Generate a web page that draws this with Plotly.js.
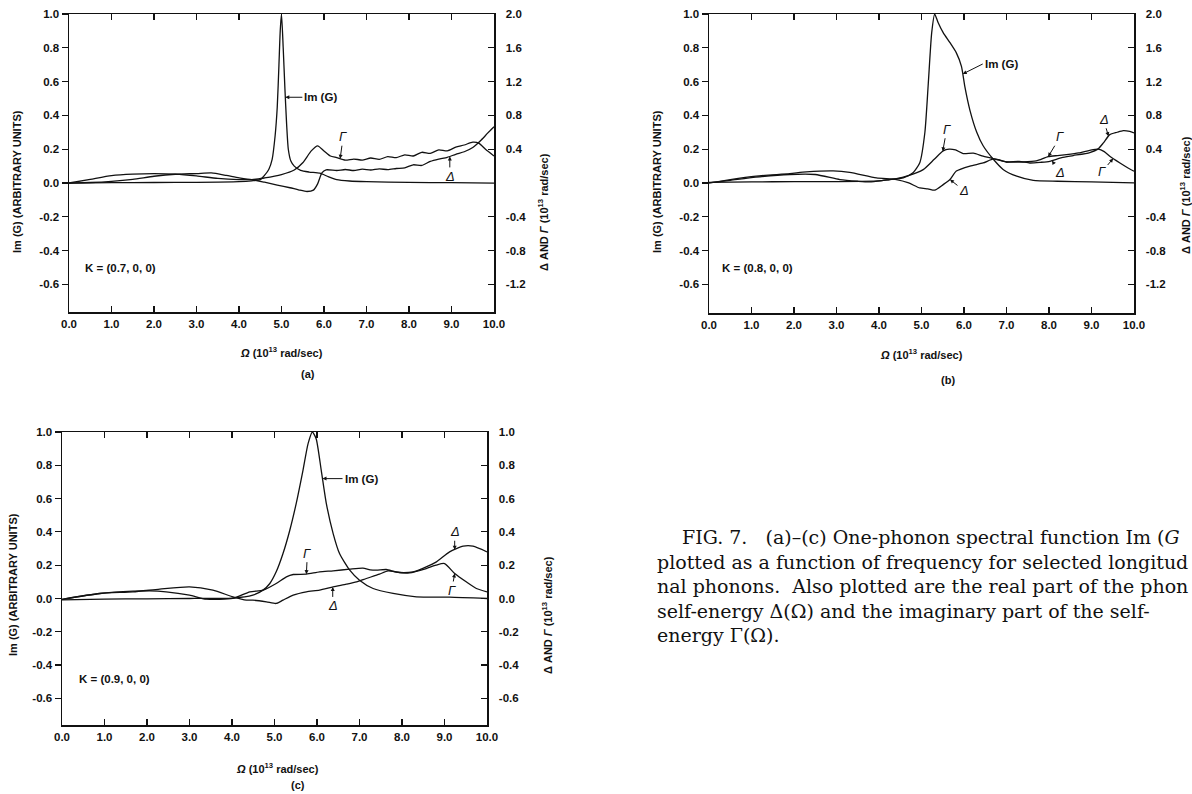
<!DOCTYPE html>
<html><head><meta charset="utf-8">
<script src="https://cdn.plot.ly/plotly-3.0.1.min.js"></script>
<style>html,body{margin:0;padding:0;background:#fff;overflow:hidden}#chart{width:1192px;height:794px}</style>
</head><body><div id="chart"></div>
<script>
// ---------------- DATA ----------------
const xTickVals = [0,1,2,3,4,5,6,7,8,9,10];
const xTickText = ["0.0","1.0","2.0","3.0","4.0","5.0","6.0","7.0","8.0","9.0","10.0"];
const leftTickVals = [-0.6,-0.4,-0.2,0,0.2,0.4,0.6,0.8,1.0];
const leftTickText = ["-0.6","-0.4","-0.2","0.0","0.2","0.4","0.6","0.8","1.0"];
const rightABTickVals = [-1.2,-0.8,-0.4,0.4,0.8,1.2,1.6,2.0];
const rightABTickText = ["-1.2","-0.8","-0.4","0.4","0.8","1.2","1.6","2.0"];
const rightCTickVals = [-0.6,-0.4,-0.2,0,0.2,0.4,0.6,0.8,1.0];
const rightCTickText = ["-0.6","-0.4","-0.2","0.0","0.2","0.4","0.6","0.8","1.0"];

// Panel (a)  K = (0.7, 0, 0)
const omegaA_img = [0,1,2,3,4,4.3,4.5,4.6,4.7,4.78,4.85,4.9,4.94,4.97,5.0,5.04,5.08,5.12,5.16,5.22,5.3,5.45,5.65,5.9,6.1,6.3,6.6,7.0,8.0,9.0,10];
const imgA = [0,0.002,0.003,0.004,0.008,0.013,0.02,0.045,0.08,0.14,0.28,0.45,0.7,0.9,1.0,0.8,0.56,0.35,0.2,0.13,0.1,0.075,0.065,0.058,0.038,0.02,0.012,0.008,0.004,0.002,0.0];
const omegaA_gamma = [0,0.5,1.0,1.5,2.0,2.5,3.0,3.35,3.7,4.0,4.3,4.6,5.0,5.3,5.5,5.7,5.85,6.0,6.15,6.3,6.5,6.7,6.9,7.1,7.3,7.5,7.7,7.9,8.1,8.3,8.5,8.7,8.9,9.1,9.3,9.5,9.65,9.8,10];
const gammaA = [0,0.006,0.02,0.044,0.08,0.104,0.112,0.12,0.09,0.06,0.04,0.06,0.1,0.154,0.24,0.38,0.44,0.38,0.32,0.3,0.27,0.284,0.272,0.296,0.28,0.312,0.3,0.334,0.32,0.364,0.352,0.392,0.38,0.424,0.45,0.484,0.47,0.4,0.32];
const omegaA_delta = [0,0.5,1.0,1.5,2.0,2.5,3.0,3.5,4.0,4.3,4.6,4.9,5.2,5.4,5.6,5.75,5.85,5.95,6.05,6.3,6.5,6.7,6.9,7.1,7.3,7.5,7.7,7.9,8.1,8.3,8.5,8.7,8.9,9.1,9.3,9.5,9.7,9.85,10];
const deltaA = [0,0.044,0.088,0.106,0.112,0.106,0.084,0.054,0.04,0.04,0.01,-0.024,-0.056,-0.08,-0.1,-0.084,-0.01,0.12,0.156,0.148,0.16,0.148,0.164,0.154,0.168,0.158,0.172,0.18,0.216,0.208,0.256,0.284,0.304,0.34,0.37,0.42,0.51,0.59,0.666];

// Panel (b)  K = (0.8, 0, 0)
const omegaB_img = [0,1,2,3,4,4.25,4.57,4.8,4.96,5.08,5.16,5.24,5.31,5.39,5.51,5.67,5.82,5.94,6.02,6.14,6.3,6.45,6.69,6.92,7.24,7.63,8.2,9.0,10];
const imgB = [0.003,0.006,0.008,0.008,0.012,0.02,0.03,0.06,0.12,0.3,0.59,0.89,1.0,0.95,0.89,0.83,0.77,0.69,0.57,0.43,0.3,0.22,0.14,0.08,0.04,0.015,0.01,0.006,0.0];
const omegaB_gamma = [0,0.5,1.1,1.9,2.5,3.08,3.5,3.78,4.1,4.41,4.65,5.04,5.3,5.51,5.65,5.8,5.98,6.22,6.45,6.77,7.0,7.39,7.7,7.98,8.2,8.41,8.7,8.96,9.16,9.3,9.43,9.67,9.85,10];
const gammaB = [0,0.03,0.068,0.1,0.1,0.04,0.02,0.012,0.03,0.052,0.08,0.158,0.28,0.38,0.4,0.39,0.348,0.352,0.316,0.276,0.248,0.248,0.26,0.31,0.324,0.336,0.356,0.386,0.4,0.37,0.316,0.236,0.18,0.138];
const omegaB_delta = [0,0.5,1.11,1.9,2.29,2.92,3.31,3.94,4.41,4.7,4.96,5.15,5.31,5.51,5.67,5.82,6.14,6.45,6.69,6.85,7.0,7.3,7.55,7.8,8.02,8.3,8.57,8.96,9.15,9.28,9.43,9.6,9.75,9.9,10];
const deltaB = [0,0.04,0.08,0.11,0.13,0.142,0.126,0.06,0.04,0.0,-0.06,-0.07,-0.086,-0.02,0.04,0.14,0.2,0.236,0.284,0.27,0.248,0.256,0.236,0.244,0.256,0.3,0.324,0.36,0.4,0.474,0.572,0.6,0.62,0.61,0.592];

// Panel (c)  K = (0.9, 0, 0)
const omegaC_img = [0,1,2,3,4,4.49,4.73,4.89,5.04,5.2,5.36,5.51,5.67,5.79,5.89,5.98,6.1,6.22,6.38,6.53,6.77,7.0,7.32,7.79,8.34,9.12,10];
const imgC = [-0.008,-0.004,-0.002,0.0,0.002,0.02,0.05,0.09,0.16,0.27,0.41,0.57,0.77,0.93,1.0,0.96,0.77,0.57,0.39,0.27,0.17,0.11,0.06,0.03,0.01,0.008,0.0];
const omegaC_gamma = [0,0.89,1.67,2.06,2.45,3.0,3.4,4.02,4.42,4.73,5.04,5.28,5.44,5.75,6.06,6.38,6.77,7.08,7.25,7.4,7.63,7.87,8.18,8.57,8.8,9.0,9.24,9.51,9.75,10];
const gammaC = [-0.005,0.03,0.044,0.046,0.04,0.02,-0.004,0.0,0.04,0.05,0.09,0.13,0.144,0.146,0.16,0.166,0.176,0.182,0.172,0.17,0.174,0.158,0.154,0.18,0.2,0.21,0.15,0.1,0.06,0.04];
const omegaC_delta = [0,0.89,1.67,2.3,3.0,3.55,4.02,4.34,4.49,4.81,5.04,5.2,5.44,5.75,6.06,6.38,6.69,6.93,7.16,7.47,7.67,7.95,8.26,8.57,8.81,9.12,9.44,9.67,10];
const deltaC = [-0.005,0.03,0.04,0.056,0.07,0.05,0.01,-0.01,-0.01,-0.02,-0.03,-0.01,0.02,0.04,0.05,0.07,0.086,0.1,0.12,0.146,0.166,0.156,0.16,0.19,0.22,0.28,0.314,0.314,0.28];

const kLabels = ["K = (0.7, 0, 0)","K = (0.8, 0, 0)","K = (0.9, 0, 0)"];
const panelLabels = ["(a)","(b)","(c)"];
const gammaLabel = "<i>\u0393</i>";
const deltaLabel = "<i>\u0394</i>";
// caption as visible in the reference (the page edge cuts lines 1-3)
const captionLines = [
  "FIG. 7.\u00a0\u00a0\u00a0(a)\u2013(c) One-phonon spectral function Im (<i>G</i>",
  "plotted as a function of frequency for selected longitud",
  "nal phonons.\u00a0\u00a0Also plotted are the real part of the phon",
  "self-energy \u0394(\u03a9) and the imaginary part of the self-",
  "energy \u0393(\u03a9)."
];

// ---------------- LAYOUT HELPERS ----------------
const W = 1192, H = 794;
const FONT = "Liberation Sans, Arial, sans-serif";
const tickFont = {family: FONT, size: 11.5, color: "#111", weight: "bold"};
const lineCol = "#111";
function at(xs, ys, x){
  for(let i=0;i<xs.length-1;i++){
    if(x>=xs[i] && x<=xs[i+1]){const t=(x-xs[i])/(xs[i+1]-xs[i]);return ys[i]+t*(ys[i+1]-ys[i]);}
  }
  return ys[ys.length-1];
}
function px2x(px){return px/W;}
function py2y(py){return 1-py/H;}

function xAxis(l, r, anchor){
  return {domain:[px2x(l),px2x(r)], anchor:anchor, range:[0,10], tickvals:xTickVals, ticktext:xTickText,
    ticks:"inside", ticklen:6, tickwidth:1.2, tickcolor:lineCol, showline:true, linecolor:lineCol, linewidth:1.5,
    mirror:"ticks", showgrid:false, zeroline:false, tickfont:tickFont, ticklabelstandoff:1, fixedrange:true};
}
function yLeft(b, t, range, anchor){
  return {domain:[py2y(b),py2y(t)], anchor:anchor, range:range, tickvals:leftTickVals, ticktext:leftTickText,
    ticks:"outside", ticklen:6, tickwidth:1.2, tickcolor:lineCol, showline:true, linecolor:lineCol, linewidth:1.5,
    showgrid:false, zeroline:false, tickfont:tickFont, fixedrange:true};
}
function yRight(over, anchor, range, vals, text){
  return {overlaying:over, side:"right", anchor:anchor, range:range, tickvals:vals, ticktext:text,
    ticks:"inside", ticklen:6, tickwidth:1.2, tickcolor:lineCol, showline:true, linecolor:lineCol, linewidth:1.5,
    showgrid:false, zeroline:false, tickfont:tickFont, ticklabelstandoff:8, fixedrange:true};
}
function curve(xs, ys, xa, ya){
  return {x:xs, y:ys, xaxis:xa, yaxis:ya, type:"scatter", mode:"lines", hoverinfo:"skip",
    line:{color:lineCol, width:1.3, shape:"spline", smoothing:0.6}, showlegend:false};
}

// geometry (pixels)
const PA = {l:69, r:494, t:14, b:312};
const PB = {l:709, r:1134, t:14, b:313};
const PC = {l:62, r:487, t:432, b:725};

const traces = [
  curve(omegaA_img, imgA, "x", "y"),
  curve(omegaA_gamma, gammaA, "x", "y2"),
  curve(omegaA_delta, deltaA, "x", "y2"),
  curve(omegaB_img, imgB, "x2", "y3"),
  curve(omegaB_gamma, gammaB, "x2", "y4"),
  curve(omegaB_delta, deltaB, "x2", "y4"),
  curve(omegaC_img, imgC, "x3", "y5"),
  curve(omegaC_gamma, gammaC, "x3", "y6"),
  curve(omegaC_delta, deltaC, "x3", "y6")
];

const textFont = {family: FONT, size: 11.5, color: "#111", weight: "bold"};
const titleFont = {family: FONT, size: 11, color: "#111", weight: "bold"};
const greekFont = {family: FONT, size: 13, color: "#111"};
function ptext(px, py, text, opts){
  return Object.assign({xref:"paper", yref:"paper", x:px2x(px), y:py2y(py), text:text, showarrow:false,
    font:titleFont, xanchor:"center", yanchor:"middle"}, opts||{});
}
function arrowLabel(xr, yr, x, y, text, ax, ay, opts){
  return Object.assign({xref:xr, yref:yr, x:x, y:y, text:text, showarrow:true, ax:ax, ay:ay,
    arrowhead:2, arrowsize:0.8, arrowwidth:1, arrowcolor:lineCol, standoff:0, font:textFont}, opts||{});
}
const xTitle = "<i>\u03a9</i> (10<sup>13</sup> rad/sec)";
const yTitleL = "Im (G) (ARBITRARY UNITS)";
const yTitleR = "\u0394 AND <i>\u0393</i> (10<sup>13</sup> rad/sec)";

const annotations = [
  // panel (a)
  ptext(281, 352, xTitle),
  ptext(308, 374, panelLabels[0]),
  ptext(17, 182, yTitleL, {textangle:-90}),
  ptext(543, 212, yTitleR, {textangle:-90}),
  ptext(83, 268, kLabels[0], {xanchor:"left", font:textFont}),
  arrowLabel("x","y", 5.09, at(omegaA_img, imgA, 5.09), "Im (G)", 17, 0, {xanchor:"left"}),
  arrowLabel("x","y2", 6.38, at(omegaA_gamma, gammaA, 6.38), gammaLabel, 3, -22, {font:greekFont}),
  arrowLabel("x","y2", 8.96, at(omegaA_delta, deltaA, 8.96), deltaLabel, 0, 20, {font:greekFont}),
  // panel (b)
  ptext(921, 354, xTitle),
  ptext(948, 380, panelLabels[1]),
  ptext(657, 182, yTitleL, {textangle:-90}),
  ptext(1185, 195, yTitleR, {textangle:-90}),
  ptext(720, 268, kLabels[1], {xanchor:"left", font:textFont}),
  arrowLabel("x2","y3", 5.97, at(omegaB_img, imgB, 5.97), "Im (G)", 20, -10, {xanchor:"left"}),
  arrowLabel("x2","y4", 5.5, at(omegaB_gamma, gammaB, 5.5), gammaLabel, 4, -22, {font:greekFont}),
  arrowLabel("x2","y4", 5.67, at(omegaB_delta, deltaB, 5.67), deltaLabel, 14, 11, {font:greekFont}),
  arrowLabel("x2","y4", 7.98, at(omegaB_gamma, gammaB, 7.98), gammaLabel, 12, -20, {font:greekFont}),
  arrowLabel("x2","y4", 8.07, at(omegaB_delta, deltaB, 8.07), deltaLabel, 8, 12, {font:greekFont}),
  arrowLabel("x2","y4", 9.4, at(omegaB_delta, deltaB, 9.4), deltaLabel, -5, -17, {font:greekFont}),
  arrowLabel("x2","y4", 9.51, at(omegaB_gamma, gammaB, 9.51), gammaLabel, -11, 13, {font:greekFont}),
  // panel (c)
  ptext(277, 768, xTitle),
  ptext(298, 785, panelLabels[2]),
  ptext(13, 585, yTitleL, {textangle:-90}),
  ptext(547, 615, yTitleR, {textangle:-90}),
  ptext(77, 679, kLabels[2], {xanchor:"left", font:textFont}),
  arrowLabel("x3","y5", 6.13, at(omegaC_img, imgC, 6.13), "Im (G)", 20, 0, {xanchor:"left"}),
  arrowLabel("x3","y6", 5.75, at(omegaC_gamma, gammaC, 5.75), gammaLabel, 1, -21, {font:greekFont}),
  arrowLabel("x3","y6", 6.37, at(omegaC_delta, deltaC, 6.37), deltaLabel, 0, 19, {font:greekFont}),
  arrowLabel("x3","y6", 9.24, at(omegaC_delta, deltaC, 9.24), deltaLabel, 0, -18, {font:greekFont}),
  arrowLabel("x3","y6", 9.24, at(omegaC_gamma, gammaC, 9.24), gammaLabel, -3, 17, {font:greekFont})
];
const capFont = {family:"DejaVu Serif, Liberation Serif, serif", size:19, color:"#111"};
const capX = [680, 655, 655, 655, 655];
const capY = [537, 561.5, 586, 610.5, 635];
captionLines.forEach((t,i)=>annotations.push(ptext(capX[i], capY[i], t, {xanchor:"left", font:capFont})));

const layout = {
  width:W, height:H, margin:{l:0,r:0,t:0,b:0}, paper_bgcolor:"#fff", plot_bgcolor:"rgba(0,0,0,0)",
  showlegend:false, font:{family:FONT, color:"#111", size:11},
  xaxis: xAxis(PA.l, PA.r, "y"),
  yaxis: yLeft(PA.b, PA.t, [-0.763, 1.0], "x"),
  yaxis2: yRight("y", "x", [-1.526, 2.0], rightABTickVals, rightABTickText),
  xaxis2: xAxis(PB.l, PB.r, "y3"),
  yaxis3: yLeft(PB.b, PB.t, [-0.77, 1.0], "x2"),
  yaxis4: yRight("y3", "x2", [-1.54, 2.0], rightABTickVals, rightABTickText),
  xaxis3: xAxis(PC.l, PC.r, "y5"),
  yaxis5: yLeft(PC.b, PC.t, [-0.76, 1.0], "x3"),
  yaxis6: yRight("y5", "x3", [-0.76, 1.0], rightCTickVals, rightCTickText),
  annotations: annotations
};
Plotly.newPlot("chart", traces, layout, {staticPlot:true, displayModeBar:false});
</script></body></html>
